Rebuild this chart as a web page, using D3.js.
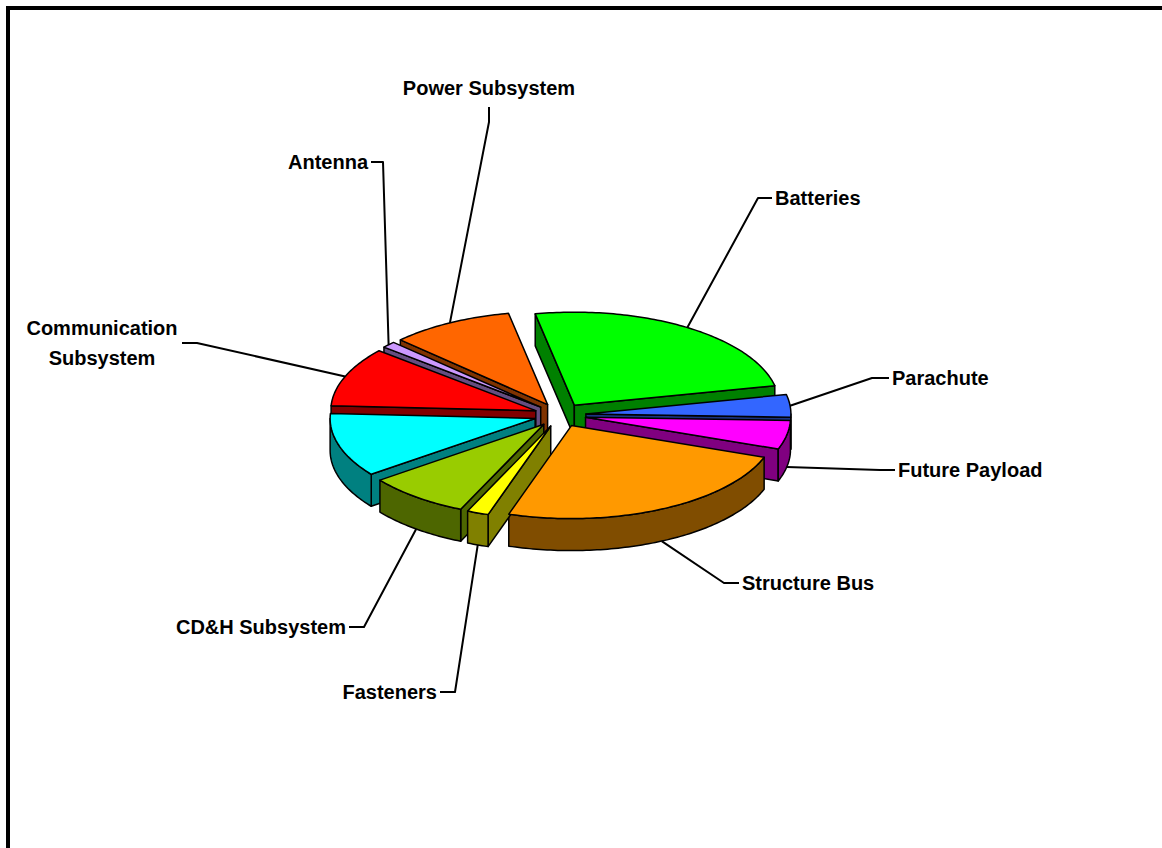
<!DOCTYPE html>
<html>
<head>
<meta charset="utf-8">
<script src="https://cdn.jsdelivr.net/npm/d3@7"></script>
<style>
  body { margin: 0; background: #fff; }
  svg { display: block; }
  .lbl { font-family: Arial, "Liberation Sans", sans-serif; font-weight: bold; font-size: 20px; fill: #000; }
</style>
</head>
<body>
<svg id="chart" width="1162" height="848"></svg>
<script>
// Mass breakdown by subsystem (percent of total), clockwise from the first slice
const categories = ["Batteries", "Parachute", "Future Payload", "Structure Bus", "Fasteners",
                    "CD&H Subsystem", "", "Communication Subsystem", "Antenna", "Power Subsystem"];
const massShare = [24.7, 3.9, 5.0, 24.4, 1.7, 8.1, 11.1, 10.3, 1.1, 9.7];
const topColors = ["#00FF00", "#3366FF", "#FF00FF", "#FF9900", "#FFFF00",
                   "#99CC00", "#00FFFF", "#FF0000", "#CC99FF", "#FF6600"];

// Label placement: text position, anchor, and the leader's tip/elbow points
const labelLayout = [
  { x: 775, y: 198, anchor: "start",  tip: [772, 198], elbow: [758, 198] },
  { x: 892, y: 378, anchor: "start",  tip: [889, 378], elbow: [872, 378] },
  { x: 898, y: 470, anchor: "start",  tip: [895, 470], elbow: [880, 470] },
  { x: 742, y: 583, anchor: "start",  tip: [739, 583], elbow: [724, 583] },
  { x: 437, y: 692, anchor: "end",    tip: [440, 692], elbow: [455, 692] },
  { x: 346, y: 627, anchor: "end",    tip: [349, 627], elbow: [364, 627] },
  null,
  { x: 102, y: 328, anchor: "middle", lines: ["Communication", "Subsystem"], lineGap: 30,
    tip: [182, 343], elbow: [197, 343] },
  { x: 368, y: 162, anchor: "end",    tip: [371, 162], elbow: [383, 162] },
  { x: 489, y: 88,  anchor: "middle", tip: [489, 107], elbow: [489, 122] }
];

const svg = d3.select("#chart");

// Frame (only the top and left edges fall inside the page)
svg.append("path")
  .attr("d", "M8,848 L8,8 L1162,8")
  .attr("fill", "none").attr("stroke", "#000").attr("stroke-width", 4);

// 3D pie geometry
const cx = 560, cy = 415, rx = 205, ry = 93, depth = 32, explode = 26;
const startDeg = -11;
const start = startDeg * Math.PI / 180;

const pie = d3.pie().sort(null).value(d => d)
  .startAngle(start).endAngle(start + 2 * Math.PI);
const arcs = pie(massShare).map((a, i) => {
  const mid = (a.startAngle + a.endAngle) / 2;
  return {
    i, a0: a.startAngle, a1: a.endAngle, mid,
    ox: cx + explode * Math.sin(mid),
    oy: cy - explode * (ry / rx) * Math.cos(mid),
    color: topColors[i]
  };
});

const sideColor = c => { const r = d3.rgb(c); return d3.rgb(r.r / 2, r.g / 2, r.b / 2).formatHex(); };
const pt = (s, t, z) => [s.ox + rx * Math.sin(t), s.oy - ry * Math.cos(t) + z];
const sample = (t0, t1) => {
  const n = Math.max(2, Math.ceil(Math.abs(t1 - t0) / (Math.PI / 180)));
  return d3.range(n + 1).map(k => t0 + (t1 - t0) * k / n);
};
const line = d3.line();
const poly = pts => line(pts) + "Z";

const sideLayer = svg.append("g");
const topLayer = svg.append("g");
const edge = sel => sel.attr("stroke", "#000").attr("stroke-width", 1.5).attr("stroke-linejoin", "round");

// Back slices first so nearer walls paint over farther ones
const order = arcs.slice().sort((p, q) => (-Math.cos(p.mid)) - (-Math.cos(q.mid)));

order.forEach(s => {
  const dark = sideColor(s.color);
  // radial faces: start edge faces the viewer when sin(a0) < 0, end edge when sin(a1) > 0
  [[s.a0, Math.sin(s.a0) < 0], [s.a1, Math.sin(s.a1) > 0]].forEach(([t, vis]) => {
    if (!vis) return;
    sideLayer.append("path")
      .attr("d", poly([[s.ox, s.oy], pt(s, t, 0), pt(s, t, depth), [s.ox, s.oy + depth]]))
      .attr("fill", dark).call(edge);
  });
  // outer wall: only the front half (cos < 0) is visible
  for (let k = -1; k <= 1; k++) {
    const lo = Math.max(s.a0, Math.PI / 2 + 2 * Math.PI * k);
    const hi = Math.min(s.a1, 3 * Math.PI / 2 + 2 * Math.PI * k);
    if (hi <= lo) continue;
    const ts = sample(lo, hi);
    const topArc = ts.map(t => pt(s, t, 0));
    const botArc = ts.slice().reverse().map(t => pt(s, t, depth));
    sideLayer.append("path")
      .attr("d", poly(topArc.concat(botArc)))
      .attr("fill", dark).call(edge);
  }
});

// Top faces
arcs.forEach(s => {
  const rim = sample(s.a0, s.a1).map(t => pt(s, t, 0));
  topLayer.append("path")
    .attr("d", poly([[s.ox, s.oy]].concat(rim)))
    .attr("fill", s.color).call(edge);
});

// Leader lines and labels
const labelLayer = svg.append("g");
arcs.forEach(s => {
  const L = labelLayout[s.i];
  if (!L || !categories[s.i]) return;
  const front = Math.cos(s.mid) < 0;
  const anchorPt = pt(s, s.mid, front ? depth : 0);
  labelLayer.append("path")
    .attr("d", d3.line()([anchorPt, L.elbow, L.tip]))
    .attr("fill", "none").attr("stroke", "#000").attr("stroke-width", 2)
    .attr("stroke-linejoin", "round");
  const lines = L.lines || [categories[s.i]];
  const txt = labelLayer.append("text").attr("class", "lbl")
    .attr("text-anchor", L.anchor);
  lines.forEach((ln, j) => {
    txt.append("tspan").attr("x", L.x).attr("y", L.y + j * (L.lineGap || 0))
      .attr("dy", "0.35em").text(ln);
  });
});
</script>
</body>
</html>
